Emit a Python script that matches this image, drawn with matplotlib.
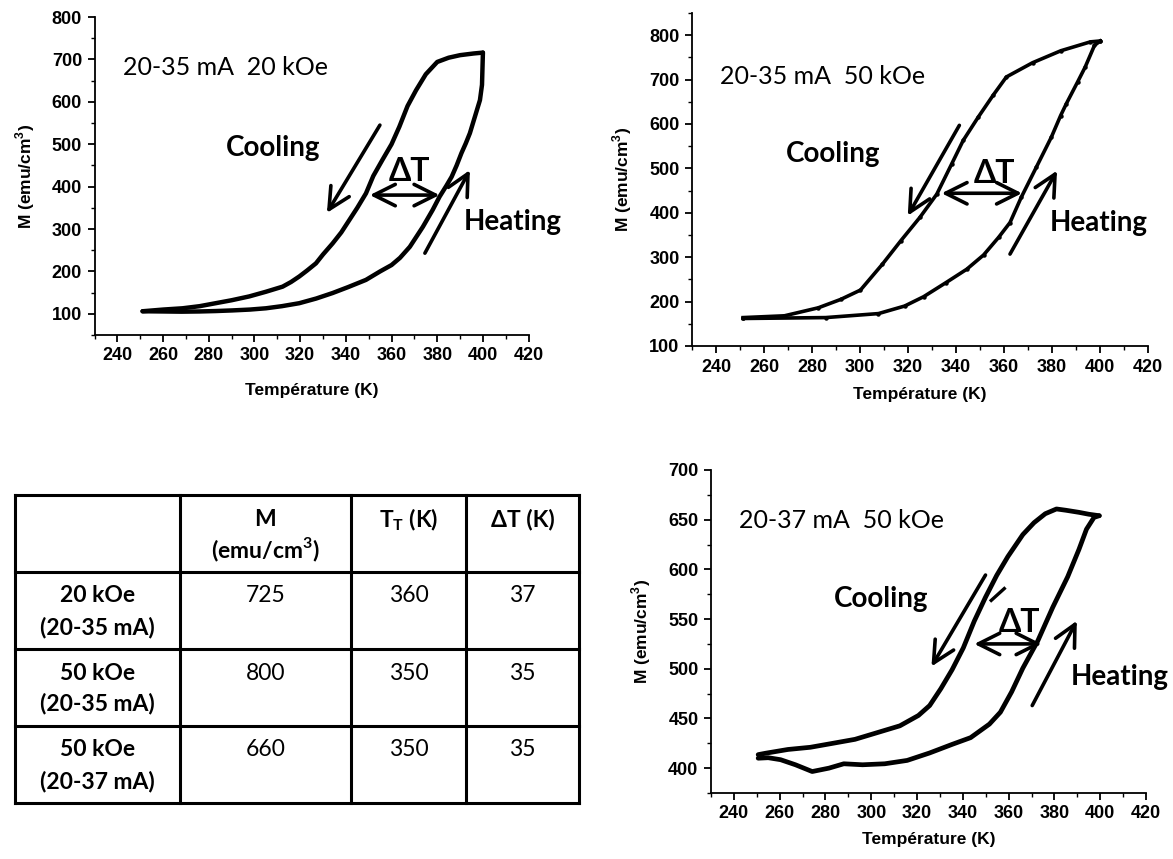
import matplotlib
matplotlib.use("Agg")
import matplotlib.pyplot as plt
from matplotlib.lines import Line2D
from matplotlib.font_manager import FontProperties

plt.rcParams['mathtext.fontset'] = 'custom'
plt.rcParams['mathtext.bf'] = 'Lato:bold'
plt.rcParams['mathtext.rm'] = 'Lato'
plt.rcParams['mathtext.sf'] = 'Liberation Sans:bold'

# ---------------- data ----------------
# Panel A : 20-35 mA, 20 kOe
a_cool_T = [400.0, 396, 390, 385, 380, 375, 370.7, 367, 363.4, 360, 356, 352, 348.8, 345, 341.5, 338,
            334.2, 330, 326.9, 323, 319.6, 316, 312.3, 305, 297.7, 290, 283, 276, 268.5, 260, 251]
a_cool_M = [716, 714, 710, 704, 694, 665, 627, 590, 541, 500, 463, 425, 384, 350, 321, 292,
            266, 240, 219, 202, 188, 175, 164, 152, 141, 132, 125, 118, 113, 110, 106]
a_heat_T = [251, 260, 268, 275.8, 283, 290.4, 298, 305, 312, 319.6, 327, 334.2, 341, 348.8, 355, 360,
            363.7, 368, 373.7, 378, 381, 384, 386.3, 388.5, 390.6, 392.5, 394.3, 396.5, 398.7, 399.6, 400.0]
a_heat_M = [106, 105.5, 105, 105.5, 106.5, 108, 110, 113, 118, 125, 136, 149, 163, 180, 200, 215,
            232, 258, 305, 345, 376, 402, 423, 450, 479, 502, 526, 565, 604, 640, 716]

# Panel B : 20-35 mA, 50 kOe
b_cool_T = [400.1, 396, 383.7, 371.9, 361, 355.5, 349.2, 343, 338.2, 332, 325, 317, 309.3, 300.2,
            292, 282.6, 268.5, 251.3]
b_cool_M = [787, 785, 765, 738, 706, 665, 615, 563, 510, 442, 390, 337, 284, 226,
            205, 186, 168, 164]
b_heat_T = [251.3, 285.7, 307.7, 318.6, 326.5, 335.9, 344.5, 351.5, 357.8, 362.5, 367.2, 373.5,
            379.7, 383.6, 386, 390.7, 393.8, 397.7, 400.1]
b_heat_M = [162, 164, 173, 190, 211, 243, 273, 305, 345, 378, 435, 503,
            570, 619, 646, 695, 728, 777, 787]

# Panel C : 20-37 mA, 50 kOe
c_cool_T = [399.6, 395, 390.7, 385, 380.9, 376, 371.1, 366.2, 359.7, 354.8, 349.9, 345, 340.2, 335.3,
            330.4, 325.5, 320.6, 312.5, 302.7, 292.9, 283.2, 273.4, 263.6, 253.8, 250.6]
c_cool_M = [654, 655.5, 657.4, 659.5, 660.8, 656, 647, 635, 613, 594, 572, 548, 521, 499,
            480, 463, 453, 442.6, 435.8, 429, 425, 421, 418.8, 415, 413.6]
c_heat_T = [250.6, 255, 260.4, 266.9, 274.2, 281.5, 288, 296.2, 305.9, 315.7, 325.5, 335.3, 343.4,
            351.6, 356.4, 361.3, 366.2, 372.7, 379.3, 385.8, 390.7, 394, 397.3, 399.6]
c_heat_M = [410, 410.5, 408.5, 403.4, 396.6, 400, 404.4, 403.4, 404.4, 407.8, 415.3, 423.9, 430.7,
            444.3, 456.3, 476.7, 500.6, 527.9, 562, 592.6, 620, 640.4, 652.3, 654]

# Table
table_cols = ["M\n(emu/cm$^{\\mathbf{3}}$)", "T$_{\\mathbf{T}}$ (K)", "ΔT (K)"]
table_rows = [("20 kOe", "(20-35 mA)"), ("50 kOe", "(20-35 mA)"), ("50 kOe", "(20-37 mA)")]
table_M = ["725", "800", "660"]
table_TT = ["360", "350", "350"]
table_dT = ["37", "35", "35"]

# ---------------- figure ----------------
W, H = 1173, 859
fig = plt.figure(figsize=(W / 100, H / 100), dpi=100)


def px_axes(l, r, t, b):
    return fig.add_axes([l / W, 1 - b / H, (r - l) / W, (b - t) / H])


tick_fp = FontProperties(family='Liberation Sans', weight='bold', size=13)
annot_fam = ['Lato', 'DejaVu Sans']


def style_axes(ax, ylim, ymaj, ymin, xpad):
    ax.set_xlim(230, 420)
    ax.set_ylim(*ylim)
    ax.set_xticks(range(240, 421, 20))
    ax.set_xticks(range(230, 421, 10), minor=True)
    ax.set_yticks(ymaj)
    ax.set_yticks(ymin, minor=True)
    for s in ['top', 'right']:
        ax.spines[s].set_visible(False)
    for s in ['left', 'bottom']:
        ax.spines[s].set_linewidth(1.3)
    ax.tick_params(which='major', direction='out', length=5, width=1.3, pad=4)
    ax.tick_params(which='minor', direction='out', length=3, width=1.0)
    for lab in ax.get_xticklabels() + ax.get_yticklabels():
        lab.set_fontproperties(tick_fp)
    ax.set_xlabel('Température (K)', fontfamily='Liberation Sans', fontweight='bold', fontsize=12.5,
                  labelpad=xpad)
    ax.set_ylabel('M (emu/cm$^{\\mathsf{3}}$)', fontfamily='Liberation Sans', fontweight='bold',
                  fontsize=12.5, labelpad=11)


def arrow(ax, x0, y0, x1, y1, style='->'):
    ax.annotate('', xy=(x1, y1), xytext=(x0, y0),
                arrowprops=dict(arrowstyle=style + ',head_length=0.7,head_width=0.35',
                                lw=2.6, color='black', mutation_scale=22,
                                shrinkA=0, shrinkB=0))


def annotations(ax, title_xy, title, cool_xy, dT_xy, heat_xy, cool_arr, heat_arr, dT_arr):
    ax.text(*title_xy, title, fontfamily=annot_fam, fontsize=18, ha='left', va='center')
    ax.text(*cool_xy, 'Cooling', fontfamily=annot_fam, fontweight='bold', fontsize=20,
            ha='center', va='center')
    ax.text(*dT_xy, 'ΔT', fontfamily=annot_fam, fontweight='bold', fontsize=23,
            ha='center', va='center')
    ax.text(*heat_xy, 'Heating', fontfamily=annot_fam, fontweight='bold', fontsize=20,
            ha='center', va='center', clip_on=False)
    arrow(ax, *cool_arr)
    arrow(ax, *heat_arr)
    arrow(ax, *dT_arr, style='<->')


# Panel A
axA = px_axes(94.6, 528.6, 17, 335)
axA.plot(a_cool_T, a_cool_M, color='black', lw=3.2, solid_capstyle='round')
axA.plot(a_heat_T, a_heat_M, color='black', lw=3.2, solid_capstyle='round')
style_axes(axA, (50, 800), range(100, 801, 100), range(50, 801, 50), 13)
annotations(axA, (242.4, 682), '20-35 mA  20 kOe', (308, 491), (368, 435), (413.2, 316),
            (354.9, 545, 331.7, 338), (374.6, 243, 394.3, 439), (350.5, 380, 381, 380))

# Panel B
axB = px_axes(692, 1148, 13, 346)
axB.plot(b_cool_T, b_cool_M, color='black', lw=2.6, marker='o', ms=2.2)
axB.plot(b_heat_T, b_heat_M, color='black', lw=2.6, marker='o', ms=2.2)
style_axes(axB, (100, 850), range(100, 801, 100), range(100, 851, 50), 8)
annotations(axB, (241.6, 706), '20-35 mA  50 kOe', (288.9, 533), (356.2, 488), (399.3, 378),
            (341.4, 597, 319.9, 393.5), (362.5, 307, 382.1, 495), (334, 444, 367.5, 444))

# Panel C
axC = px_axes(711, 1146, 470, 793)
axC.plot(c_cool_T, c_cool_M, color='black', lw=3.4, solid_capstyle='round')
axC.plot(c_heat_T, c_heat_M, color='black', lw=3.4, solid_capstyle='round')
style_axes(axC, (375, 700), range(400, 701, 50), range(375, 701, 25), 7)
annotations(axC, (242.4, 649), '20-37 mA  50 kOe', (304.3, 570.5), (364.6, 546.6), (408.6, 492),
            (349.9, 594.3, 326.3, 502.3), (370.3, 463, 389.8, 548.3), (345, 525, 374.4, 525))
axC.plot([352.4, 358.1], [568.8, 580.7], color='black', lw=2.4)

# ---------------- table ----------------
col_x = [15, 180, 351, 466, 579]
row_y = [495, 572, 649, 726, 803]
for x in col_x:
    fig.add_artist(Line2D([x / W, x / W], [1 - row_y[0] / H, 1 - row_y[-1] / H], color='black', lw=2.2))
for y in row_y:
    fig.add_artist(Line2D([col_x[0] / W, col_x[-1] / W], [1 - y / H, 1 - y / H], color='black', lw=2.2))


def ftext(x, y, s, bold=False, size=16.5):
    fig.text(x / W, 1 - y / H, s, ha='center', va='center', fontsize=size,
             fontfamily=annot_fam, fontweight='bold' if bold else 'normal')


mid = [(col_x[i] + col_x[i + 1]) / 2 for i in range(4)]
hdr_l1 = row_y[0] + 25
hdr_l2 = row_y[0] + 55
ftext(mid[1], hdr_l1, table_cols[0].split('\n')[0], bold=True)
ftext(mid[1], hdr_l2, table_cols[0].split('\n')[1], bold=True)
ftext(mid[2], hdr_l1, table_cols[1], bold=True)
ftext(mid[3], hdr_l1, table_cols[2], bold=True)

for i, (r1, r2) in enumerate(table_rows):
    y0 = row_y[i + 1]
    ftext(mid[0], y0 + 24, r1, bold=True)
    ftext(mid[0], y0 + 55, r2, bold=True)
    ftext(mid[1], y0 + 24, table_M[i])
    ftext(mid[2], y0 + 24, table_TT[i])
    ftext(mid[3], y0 + 24, table_dT[i])

fig.savefig('out.png', dpi=100)
